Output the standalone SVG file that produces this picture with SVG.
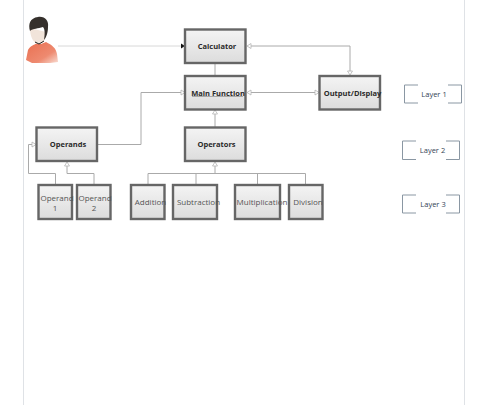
<svg xmlns="http://www.w3.org/2000/svg" width="480" height="405" viewBox="0 0 480 405">
<style>
.b{fill:url(#g);stroke:#666;stroke-width:2.4}
.t{font-family:"Open Sans","Liberation Sans",sans-serif;font-size:8px;fill:#555;text-anchor:middle}
.h{font-family:"Open Sans","Liberation Sans",sans-serif;font-size:7.500px;font-weight:bold;fill:#2a2a2a;text-anchor:middle}
.l{font-family:"Open Sans","Liberation Sans",sans-serif;font-size:7.500px;fill:#345;text-anchor:middle}
.c{fill:none;stroke:#aaa;stroke-width:1}
.a{fill:#fff;stroke:#b5b5b5;stroke-width:.8}
.f{fill:none;stroke:#8a97a3;stroke-width:1}
</style>
<defs><linearGradient id="g" x1="0" y1="0" x2="0" y2="1"><stop offset="0" stop-color="#f4f4f4"/><stop offset="1" stop-color="#dcdcdc"/></linearGradient>
<linearGradient id="s" x1="0" y1="0" x2="1" y2="1"><stop offset="0" stop-color="#e96f50"/><stop offset=".65" stop-color="#ee8a70"/><stop offset="1" stop-color="#f8dcd2"/></linearGradient></defs>
<rect width="480" height="405" fill="#fff"/>
<path d="M23.500 0V405M464.500 0V405" fill="none" stroke="#dfe2e6"/>
<g id="connectors">
<path class="c" d="M58 46H182" style="stroke:#d8d8d8"/>
<path d="M181 43.500l4 2.500-4 2.500z" fill="#111"/>
<path class="c" d="M215 64V75"/>
<path class="c" d="M250 46H350V71"/>
<path class="a" d="M251 43.500l-4 2.500 4 2.500zM347.500 71l2.500 4 2.500-4z"/>
<path class="c" d="M251 92.500H315"/>
<path class="a" d="M251 90l-4 2.500 4 2.500zM315 90l4 2.500-4 2.500z"/>
<path class="c" d="M98 144.500H141V92.500H181"/>
<path class="a" d="M181 90l4 2.500-4 2.500z"/>
<path class="c" d="M215 127V114"/>
<path class="a" d="M212.500 114l2.500-4 2.500 4z"/>
<path class="c" d="M55.500 184V173.500H28.500V144.500H32"/>
<path class="a" d="M32 142l4 2.500-4 2.500z"/>
<path class="c" d="M94 184V173.500H67V166"/>
<path class="a" d="M64.500 166l2.500-4 2.500 4z"/>
<path class="c" d="M215 166V173.500M148 184V173.500H305.500V184M196 184V173.500M257.500 184V173.500"/>
<path class="a" d="M212.500 166l2.500-4 2.500 4z"/>
</g>
<g id="user">
<path d="M28 50C30 46 34 45 37 43L41 44L46 42C52 45 56 48 57 54L58 62L50 63H32L26 60Z" fill="url(#s)"/>
<path d="M30 28C30 35 32 41 37 44L41 44C44 42 46 38 46 32Z" fill="#f1e4da"/>
<path d="M30 31C28 24 30 18 38 17C45 16 49 21 48 27C48 33 46 38 44 40C45 34 45 29 43 27C38 29 33 28 30 31Z" fill="#35302c"/>
<path d="M35 42L39 44L44 41" fill="none" stroke="#222" stroke-width="1"/>
</g>
<g id="calculator"><rect class="b" x="185" y="29.500" width="60.500" height="33.500"/><text class="h" x="217" y="49">Calculator</text></g>
<g id="main-function"><rect class="b" x="185" y="76" width="60.500" height="33.500"/><text class="h" x="218" y="95.500">Main Function</text><path d="M192 96.500H243" stroke="#999" stroke-width=".8"/></g>
<g id="output-display"><rect class="b" x="319.500" y="76" width="60.500" height="33.500"/><text class="h" x="352.500" y="95.500">Output/Display</text></g>
<g id="operands"><rect class="b" x="36.500" y="127.500" width="60.500" height="33.500"/><text class="h" x="68" y="147">Operands</text></g>
<g id="operators"><rect class="b" x="185" y="127.500" width="60.500" height="33.500"/><text class="h" x="216.500" y="147">Operators</text></g>
<g id="operand-1"><rect class="b" x="38.500" y="185" width="33.500" height="34"/><text class="t" x="57" y="201">Operand</text><text class="t" x="55" y="211">1</text></g>
<g id="operand-2"><rect class="b" x="77" y="185" width="33.500" height="34"/><text class="t" x="95" y="201">Operand</text><text class="t" x="94" y="211">2</text></g>
<g id="addition"><rect class="b" x="131" y="185" width="33.500" height="34"/><text class="t" x="150.500" y="205">Addition</text></g>
<g id="subtraction"><rect class="b" x="173" y="185" width="44" height="34"/><text class="t" x="198.500" y="205">Subtraction</text></g>
<g id="multiplication"><rect class="b" x="235" y="185" width="45" height="34"/><text class="t" x="262" y="205">Multiplication</text></g>
<g id="division"><rect class="b" x="289" y="185" width="33.500" height="34"/><text class="t" x="308" y="205">Division</text></g>
<g id="layer-1"><path class="f" d="M418 85H404.500V103H418M448 85H461.500V103H448"/><text class="l" x="434" y="97">Layer 1</text></g>
<g id="layer-2"><path class="f" d="M416 141H402.500V159.500H416M446 141H459.500V159.500H446"/><text class="l" x="432.500" y="153">Layer 2</text></g>
<g id="layer-3"><path class="f" d="M416 195H402.500V213H416M446 195H459.500V213H446"/><text class="l" x="433" y="207">Layer 3</text></g>
</svg>
